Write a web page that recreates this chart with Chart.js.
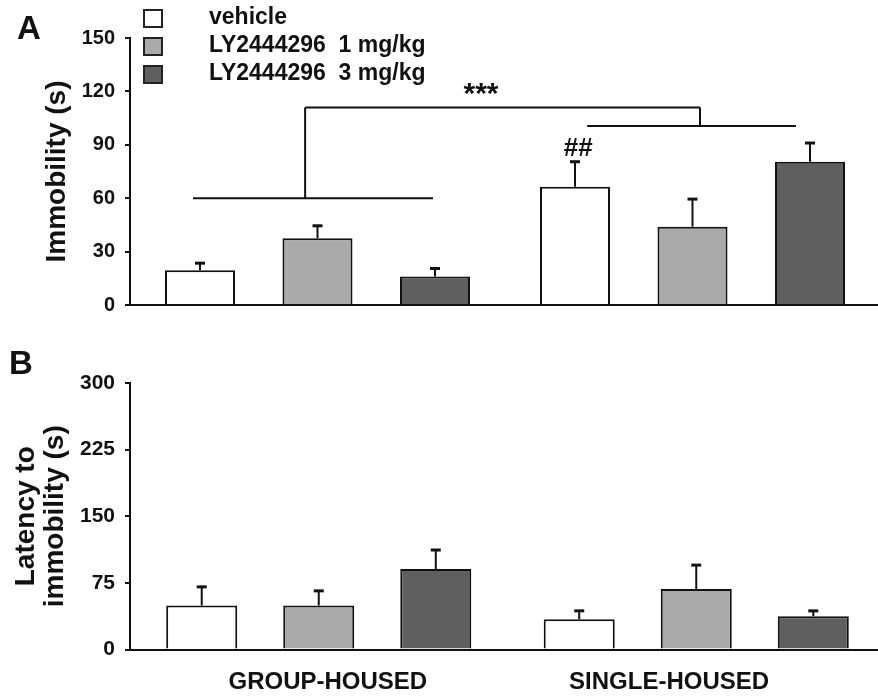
<!DOCTYPE html>
<html>
<head>
<meta charset="utf-8">
<script src="https://cdn.jsdelivr.net/npm/chart.js@4.4.1/dist/chart.umd.min.js"></script>
<style>
    html, body { margin: 0; padding: 0; background: #fff; overflow: hidden; }
    body { width: 878px; height: 698px; position: relative; font-family: 'Liberation Sans', Arial, sans-serif; color: #111; }
    canvas { position: absolute; left: 0; }
    #chartA { top: 0; }
    #chartB { top: 330px; }
    .letter { position: absolute; font-weight: bold; font-size: 33px; line-height: 1; }
    .legend { position: absolute; left: 143px; top: 9px; }
    .legend-row { position: absolute; left: 0; height: 19px; }
    .legend-box { position: absolute; left: 0; top: 0; width: 16px; height: 15px; border: 2px solid #222; }
    .legend-text { position: absolute; left: 66px; top: -2px; line-height: 19px; white-space: pre; font-weight: bold; font-size: 23px; }
</style>
</head>
<body>
<canvas id="chartA" width="890" height="330"></canvas>
<canvas id="chartB" width="890" height="368"></canvas>
<div class="letter" style="left:17px; top:11px;">A</div>
<div class="letter" style="left:9px; top:346px;">B</div>
<div class="legend" id="legend"></div>

<script>
const groups = ['GROUP-HOUSED', 'SINGLE-HOUSED'];
const treatments = ['vehicle', 'LY2444296  1 mg/kg', 'LY2444296  3 mg/kg'];
const fills = ['#ffffff', '#aaaaaa', '#5f5f5f'];

// A: immobility (s), mean and SEM for group-housed / single-housed
const immobilityVehicle = [19.5, 66.5];
const immobilityLow = [37.5, 44];
const immobilityHigh = [16, 80.5];
const immobilityVehicleSem = [4, 14];
const immobilityLowSem = [7, 15.5];
const immobilityHighSem = [4.5, 10.5];
const immobilityTicks = [0, 30, 60, 90, 120, 150];

// B: latency to immobility (s)
const latencyVehicle = [49.5, 34];
const latencyLow = [49.5, 68];
const latencyHigh = [90.5, 37.5];
const latencyVehicleSem = [21, 9.5];
const latencyLowSem = [16.5, 27];
const latencyHighSem = [21.5, 6];
const latencyTicks = [0, 75, 150, 225, 300];

// significance marks on A: x in category units (0 = first group), y in seconds
const bracketLeft = { from: -0.332, to: 0.308, stem: -0.033, y: 60 };
const bracketRight = { from: 0.719, to: 1.276, stem: 1.02, y: 100.6 };
const bracketTop = 111;
const marks = [
    { text: '***', x: 0.436, y: 118, size: 30 },
    { text: '##', x: 0.695, y: 88, size: 26 }
];

const FONT = "'Liberation Sans', Arial, sans-serif";
const INK = '#111';
Chart.defaults.font.family = FONT;
Chart.defaults.color = INK;

// legend
const legendEl = document.getElementById('legend');
treatments.forEach(function (name, i) {
    const row = document.createElement('div');
    row.className = 'legend-row';
    row.style.top = (i * 28) + 'px';
    row.innerHTML = '<div class="legend-box" style="background:' + fills[i] + '"></div>' +
        '<div class="legend-text"></div>';
    row.querySelector('.legend-text').textContent = name;
    legendEl.appendChild(row);
});

const errorBars = {
    id: 'errorBars',
    afterDatasetsDraw(chart) {
        const ctx = chart.ctx;
        const y = chart.scales.y;
        ctx.save();
        ctx.strokeStyle = INK;
        chart.data.datasets.forEach(function (ds, i) {
            chart.getDatasetMeta(i).data.forEach(function (bar, j) {
                const top = y.getPixelForValue(ds.data[j] + ds.sem[j]);
                ctx.lineWidth = 2;
                ctx.beginPath();
                ctx.moveTo(bar.x, bar.y);
                ctx.lineTo(bar.x, top);
                ctx.stroke();
                ctx.lineWidth = 3;
                ctx.beginPath();
                ctx.moveTo(bar.x - 5, top);
                ctx.lineTo(bar.x + 5, top);
                ctx.stroke();
            });
        });
        ctx.restore();
    }
};

const significance = {
    id: 'significance',
    afterDraw(chart) {
        const ctx = chart.ctx;
        const x = chart.scales.x;
        const y = chart.scales.y;
        const px = v => x.getPixelForValue(v);
        const py = v => y.getPixelForValue(v);
        ctx.save();
        ctx.strokeStyle = INK;
        ctx.lineWidth = 2;
        ctx.beginPath();
        [bracketLeft, bracketRight].forEach(function (b) {
            ctx.moveTo(px(b.from), py(b.y));
            ctx.lineTo(px(b.to), py(b.y));
            ctx.moveTo(px(b.stem), py(b.y));
            ctx.lineTo(px(b.stem), py(bracketTop));
        });
        ctx.moveTo(px(bracketLeft.stem), py(bracketTop));
        ctx.lineTo(px(bracketRight.stem), py(bracketTop));
        ctx.stroke();
        ctx.fillStyle = INK;
        ctx.textAlign = 'center';
        ctx.textBaseline = 'middle';
        marks.forEach(function (m) {
            ctx.font = 'bold ' + m.size + 'px ' + FONT;
            ctx.fillText(m.text, px(m.x), py(m.y));
        });
        ctx.restore();
    }
};

function makeDatasets(means, sems, cat, bar) {
    return treatments.map(function (name, i) {
        return {
            label: name,
            data: means[i],
            sem: sems[i],
            backgroundColor: fills[i],
            borderColor: INK,
            borderWidth: 2,
            categoryPercentage: cat,
            barPercentage: bar
        };
    });
}

function yAxis(max, ticks, title, titleLine, titlePad, tickSize) {
    return {
        min: 0,
        max: max,
        afterBuildTicks: function (s) { s.ticks = ticks.map(v => ({ value: v })); },
        afterFit: function (s) { s.width = 130; },
        grid: { drawOnChartArea: false, color: INK, lineWidth: 2, tickLength: 5 },
        border: { color: INK, width: 2 },
        ticks: { color: INK, padding: 10, font: { size: tickSize, weight: 'bold' } },
        title: {
            display: true,
            text: title,
            color: INK,
            font: { size: 28, weight: 'bold', lineHeight: titleLine },
            padding: { top: titlePad, bottom: 0 }
        }
    };
}

const baseAxis = {
    grid: { display: false, drawTicks: false },
    ticks: { display: false },
    border: { color: INK, width: 2 },
    afterFit: function (s) { s.height = 0; }
};

new Chart(document.getElementById('chartA'), {
    type: 'bar',
    data: {
        labels: groups,
        datasets: makeDatasets(
            [immobilityVehicle, immobilityLow, immobilityHigh],
            [immobilityVehicleSem, immobilityLowSem, immobilityHighSem],
            0.94, 0.596)
    },
    options: {
        responsive: false,
        animation: false,
        layout: { padding: { top: 38, bottom: 25, left: 0, right: 10 } },
        plugins: { legend: { display: false }, tooltip: { enabled: false } },
        scales: {
            x: baseAxis,
            y: yAxis(150, immobilityTicks, 'Immobility (s)', 1.2, 40, 20)
        }
    },
    plugins: [errorBars, significance]
});

// group label positions in category units under panel B
const groupLabelAt = [0.024, 0.928];

new Chart(document.getElementById('chartB'), {
    type: 'bar',
    data: {
        labels: groups,
        datasets: makeDatasets(
            [latencyVehicle, latencyLow, latencyHigh],
            [latencyVehicleSem, latencyLowSem, latencyHighSem],
            0.93, 0.607)
    },
    options: {
        responsive: false,
        animation: false,
        layout: { padding: { top: 53, bottom: 0, left: 0, right: 5 } },
        plugins: { legend: { display: false }, tooltip: { enabled: false } },
        scales: {
            x: baseAxis,
            xl: {
                type: 'linear',
                position: 'bottom',
                weight: 1,
                offset: false,
                min: -0.5,
                max: 1.5,
                afterBuildTicks: function (s) { s.ticks = groupLabelAt.map(v => ({ value: v })); },
                afterFit: function (s) { s.height = 48.5; },
                grid: { display: false, drawTicks: false },
                border: { display: false },
                ticks: {
                    color: INK,
                    padding: 18,
                    autoSkip: false,
                    maxRotation: 0,
                    font: { size: 24, weight: 'bold' },
                    callback: function (v, i) { return groups[i]; }
                }
            },
            y: yAxis(300, latencyTicks, ['Latency to', 'immobility (s)'], 1.03, 12, 21)
        }
    },
    plugins: [errorBars]
});
</script>
</body>
</html>
